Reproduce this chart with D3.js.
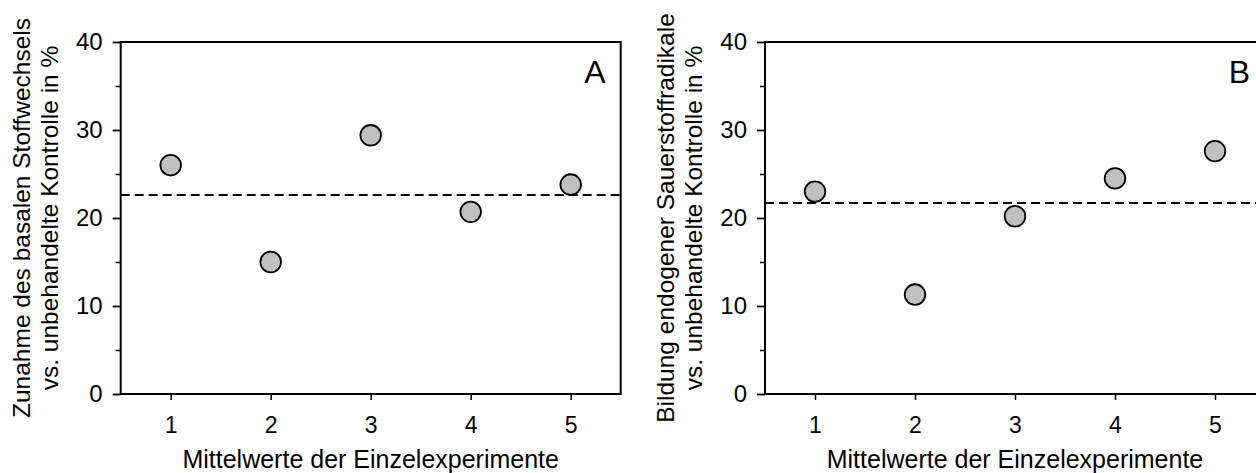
<!DOCTYPE html>
<html>
<head>
<meta charset="utf-8">
<script src="https://cdn.jsdelivr.net/npm/d3@7"></script>
<style>
  body { margin: 0; background: #fff; }
  svg { display: block; font-family: "Liberation Sans", Arial, sans-serif; }
  .tick text { font-family: "Liberation Sans", Arial, sans-serif; }
</style>
</head>
<body>
<div id="chart"></div>
<script>
// experiments on the x axis
const experiments = [1, 2, 3, 4, 5];
const xTickLabels = ["1", "2", "3", "4", "5"];

// panel A: increase of basal metabolism (%)
const valuesA = [26.0, 15.0, 29.4, 20.7, 23.8];
const meanA = 22.6;

// panel B: formation of endogenous oxygen radicals (%)
const valuesB = [23.0, 11.3, 20.2, 24.5, 27.6];
const meanB = 21.7;

const yMajorTicks = [0, 10, 20, 30, 40];
const yMinorTicks = [5, 15, 25, 35];

const titlesA = ["Zunahme des basalen Stoffwechsels", "vs. unbehandelte Kontrolle in %"];
const titlesB = ["Bildung endogener Sauerstoffradikale", "vs. unbehandelte Kontrolle in %"];
const xTitle = "Mittelwerte der Einzelexperimente";

const W = 1256, H = 473;
const plotW = 500, plotH = 352, plotTop = 42;

const svg = d3.select("#chart").append("svg")
    .attr("width", W)
    .attr("height", H);

function drawPanel(left, values, mean, titles, letter) {
    const g = svg.append("g")
        .attr("transform", "translate(" + left + "," + plotTop + ")");

    const x = d3.scaleLinear().domain([0.5, 5.5]).range([0, plotW]);
    const y = d3.scaleLinear().domain([0, 40]).range([plotH, 0]);

    // minor y ticks
    g.append("g")
        .call(d3.axisLeft(y).tickValues(yMinorTicks).tickSize(5).tickFormat(""))
        .call(a => a.select(".domain").remove())
        .call(a => a.selectAll("line").attr("stroke", "#000").attr("stroke-width", 1.5));

    // major y ticks
    g.append("g")
        .call(d3.axisLeft(y).tickValues(yMajorTicks).tickSize(8).tickPadding(10))
        .attr("font-size", null)
        .attr("font-family", null)
        .call(a => a.select(".domain").remove())
        .call(a => a.selectAll("line").attr("stroke", "#000").attr("stroke-width", 1.8))
        .call(a => a.selectAll("text")
            .style("font-size", "24px")
            .attr("fill", "#000"));

    // x ticks
    g.append("g")
        .attr("transform", "translate(0," + plotH + ")")
        .call(d3.axisBottom(x).tickValues(experiments).tickSize(6)
            .tickFormat((d, i) => xTickLabels[i]))
        .attr("font-size", null)
        .attr("font-family", null)
        .call(a => a.select(".domain").remove())
        .call(a => a.selectAll("line").attr("stroke", "#000").attr("stroke-width", 1.5))
        .call(a => a.selectAll("text")
            .attr("y", 39)
            .attr("dy", null)
            .style("font-size", "23px")
            .attr("fill", "#000"));

    // frame
    g.append("rect")
        .attr("x", 0).attr("y", 0)
        .attr("width", plotW).attr("height", plotH)
        .attr("fill", "none")
        .attr("stroke", "#000")
        .attr("stroke-width", 2);

    // mean line
    g.append("line")
        .attr("x1", x(0.5)).attr("x2", x(5.5))
        .attr("y1", y(mean)).attr("y2", y(mean))
        .attr("stroke", "#000")
        .attr("stroke-width", 2)
        .attr("stroke-dasharray", "9,5");

    // points
    g.selectAll("circle")
        .data(values)
        .enter().append("circle")
        .attr("cx", (d, i) => x(experiments[i]))
        .attr("cy", d => y(d))
        .attr("r", 10.3)
        .attr("fill", "#c0c0c0")
        .attr("stroke", "#000")
        .attr("stroke-width", 1.8);

    // panel letter
    g.append("text")
        .attr("x", plotW - 15)
        .attr("y", 40.5)
        .attr("text-anchor", "end")
        .attr("font-size", 32)
        .text(letter);

    // y title, two lines
    titles.forEach(function (t, i) {
        g.append("text")
            .attr("transform", "translate(" + (-91 + i * 28) + "," + (plotH / 2) + ") rotate(-90)")
            .attr("text-anchor", "middle")
            .attr("font-size", 24.5)
            .text(t);
    });

    // x title
    g.append("text")
        .attr("x", plotW / 2)
        .attr("y", 426)
        .attr("text-anchor", "middle")
        .attr("font-size", 25)
        .text(xTitle);
}

drawPanel(120.7, valuesA, meanA, titlesA, "A");
drawPanel(765, valuesB, meanB, titlesB, "B");
</script>
</body>
</html>
